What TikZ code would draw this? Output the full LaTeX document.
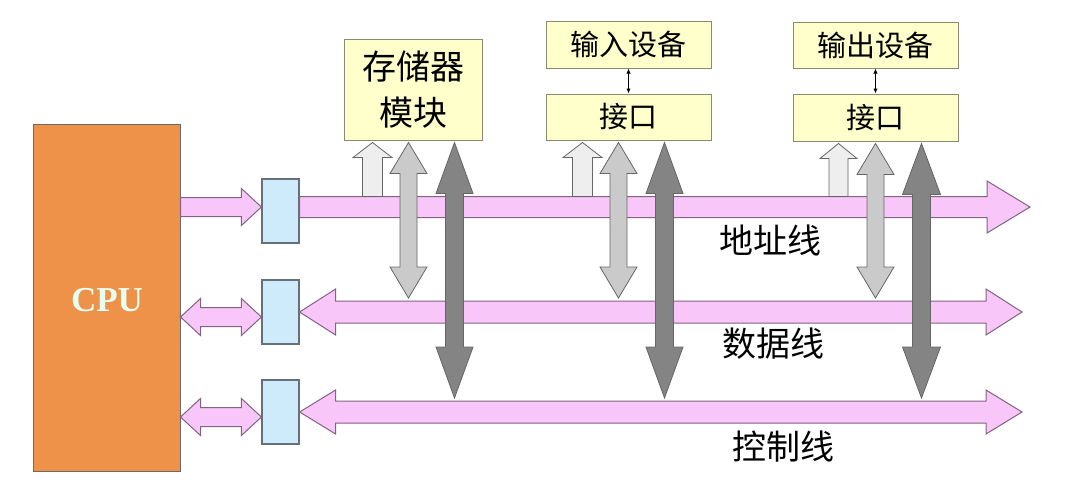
\documentclass[tikz,border=0pt]{standalone}
\usepackage{fontspec}
\setmainfont{Liberation Serif}
\newfontfamily\cjk{Noto Sans CJK SC}
\usetikzlibrary{calc,arrows.meta}
\definecolor{pinkfill}{HTML}{F9C6F9}
\definecolor{pinkline}{HTML}{806480}
\definecolor{regfill}{HTML}{CDEBFB}
\definecolor{regline}{HTML}{66707A}
\definecolor{yelfill}{HTML}{FFFFCC}
\definecolor{yelline}{HTML}{8A8A70}
\definecolor{cpufill}{HTML}{EE9149}
\definecolor{cpuline}{HTML}{6A6A6A}
\definecolor{cputext}{HTML}{E6FFF0}
\definecolor{lightarr}{HTML}{EEEEEE}
\definecolor{midarr}{HTML}{CACACA}
\definecolor{darkarr}{HTML}{848484}
\definecolor{arrline}{HTML}{666666}
% right-pointing fat arrow: #2 flat start, #3 tip, #4 shaft half, #5 head half, #6 head length
\newcommand\fatR[6]{\path[#1] ($(#2)+(0,-#4)$) -- ($(#3)+(-#6,-#4)$) -- ($(#3)+(-#6,-#5)$) -- (#3) -- ($(#3)+(-#6,#5)$) -- ($(#3)+(-#6,#4)$) -- ($(#2)+(0,#4)$) -- cycle;}
% horizontal double fat arrow: #2 left tip, #3 right tip
\newcommand\fatLR[6]{\path[#1] (#2) -- ($(#2)+(#6,-#5)$) -- ($(#2)+(#6,-#4)$) -- ($(#3)+(-#6,-#4)$) -- ($(#3)+(-#6,-#5)$) -- (#3) -- ($(#3)+(-#6,#5)$) -- ($(#3)+(-#6,#4)$) -- ($(#2)+(#6,#4)$) -- ($(#2)+(#6,#5)$) -- cycle;}
% vertical up arrow: #2 top tip, #3 flat bottom
\newcommand\fatU[6]{\path[#1] (#2) -- ($(#2)+(#5,#6)$) -- ($(#2)+(#4,#6)$) -- ($(#3)+(#4,0)$) -- ($(#3)+(-#4,0)$) -- ($(#2)+(-#4,#6)$) -- ($(#2)+(-#5,#6)$) -- cycle;}
% vertical double arrow: #2 top tip, #3 bottom tip
\newcommand\fatUD[6]{\path[#1] (#2) -- ($(#2)+(#5,#6)$) -- ($(#2)+(#4,#6)$) -- ($(#3)+(#4,-#6)$) -- ($(#3)+(#5,-#6)$) -- (#3) -- ($(#3)+(-#5,-#6)$) -- ($(#3)+(-#4,-#6)$) -- ($(#2)+(-#4,#6)$) -- ($(#2)+(-#5,#6)$) -- cycle;}
\tikzset{
  cpubox/.style={draw=cpuline, fill=cpufill, line width=1pt, inner sep=0pt},
  regbox/.style={draw=regline, fill=regfill, line width=1.2pt, minimum width=37, minimum height=64, inner sep=0pt},
  yelbox/.style={draw=yelline, fill=yelfill, line width=1pt, inner sep=0pt, font=\cjk\fontsize{29}{34}\selectfont},
  bus/.style={draw=pinkline, fill=pinkfill, line width=1pt, line join=miter},
  lightv/.style={draw=arrline, fill=lightarr, line width=0.8pt},
  midv/.style={draw=arrline, fill=midarr, line width=0.8pt},
  darkv/.style={draw=arrline, fill=darkarr, line width=0.8pt},
  buslabel/.style={font=\cjk\fontsize{34}{40}\selectfont, inner sep=0pt},
  thinlink/.style={{Latex[length=5pt,width=4.5pt]}-{Latex[length=5pt,width=4.5pt]}, line width=1pt, black}
}
\begin{document}
\begin{tikzpicture}[x=1pt,y=-1pt]
\useasboundingbox[fill=white] (0,0) rectangle (1068,491);
% CPU and registers
\node[cpubox, minimum width=147, minimum height=347] (cpu) at (106.5,297.5) {};
\node[text=cputext, font=\bfseries\fontsize{35}{40}\selectfont] (cputxt) at (107,300) {CPU};
\node[regbox] (r1) at (280.5,211) {};
\node[regbox] (r2) at (280.5,312) {};
\node[regbox] (r3) at (280.5,412) {};
% upper boxes
\node[yelbox, minimum width=138, minimum height=101, align=center, font=\cjk\fontsize{34}{46}\selectfont] (mem) at (413,89.5) {存储器\\模块};
\node[yelbox, minimum width=165, minimum height=47] (indev) at (628.5,44.5) {输入设备};
\node[yelbox, minimum width=165, minimum height=46] (inif) at (628.5,117) {接口};
\node[yelbox, minimum width=165, minimum height=46] (outdev) at (875.5,45) {输出设备};
\node[yelbox, minimum width=165, minimum height=47] (outif) at (875.5,117.5) {接口};
\draw[thinlink] (indev.south) -- (inif.north);
\draw[thinlink] (outdev.south) -- (outif.north);
% bus anchor coordinates
\coordinate (ca0) at (cpu.east |- 0,207);
\coordinate (ca1) at (r1.west |- 0,207);
\coordinate (cd0) at (cpu.east |- 0,317);
\coordinate (cd1) at (r2.west |- 0,317);
\coordinate (cc0) at (cpu.east |- 0,417);
\coordinate (cc1) at (r3.west |- 0,417);
\coordinate (ab0) at (r1.east |- 0,207);
\coordinate (ab1) at (1030,207);
\coordinate (db0) at (r2.east |- 0,312);
\coordinate (db1) at (1022,312);
\coordinate (kb0) at (r3.east |- 0,412);
\coordinate (kb1) at (1022,412);
% CPU side arrows
\fatR{bus}{ca0}{ca1}{9.5}{18.5}{20}
\fatLR{bus}{cd0}{cd1}{9.5}{18.5}{20}
\fatLR{bus}{cc0}{cc1}{9.5}{18.5}{20}
% main buses
\fatR{bus}{ab0}{ab1}{10.5}{26}{43}
\fatLR{bus}{db0}{db1}{11}{23}{36}
\fatLR{bus}{kb0}{kb1}{11}{22}{36}
% bus labels
\node[buslabel] (lab1) at (770,240) {地址线};
\node[buslabel] (lab2) at (773,344) {数据线};
\node[buslabel] (lab3) at (783,447) {控制线};
% vertical arrows: memory
\coordinate (m1t) at ($(mem.south west)+(29,2)$);
\coordinate (m1b) at (m1t |- 0,196.5);
\coordinate (m2t) at ($(mem.south west)+(65,2)$);
\coordinate (m2b) at (m2t |- 0,298);
\coordinate (m3t) at ($(mem.south west)+(111,2)$);
\coordinate (m3b) at (m3t |- 0,398);
\fatU{lightv}{m1t}{m1b}{10}{19.5}{15}
\fatUD{midv}{m2t}{m2b}{8.5}{18.5}{31}
\fatUD{darkv}{m3t}{m3b}{9}{18.5}{51}
% vertical arrows: input interface
\coordinate (i1t) at ($(inif.south west)+(37,2)$);
\coordinate (i1b) at (i1t |- 0,196.5);
\coordinate (i2t) at ($(inif.south west)+(73,2)$);
\coordinate (i2b) at (i2t |- 0,298);
\coordinate (i3t) at ($(inif.south west)+(119,2)$);
\coordinate (i3b) at (i3t |- 0,398);
\fatU{lightv}{i1t}{i1b}{10}{19.5}{15}
\fatUD{midv}{i2t}{i2b}{8.5}{18.5}{31}
\fatUD{darkv}{i3t}{i3b}{9}{18.5}{51}
% vertical arrows: output interface
\coordinate (o1t) at ($(outif.south west)+(46,2)$);
\coordinate (o1b) at (o1t |- 0,196.5);
\coordinate (o2t) at ($(outif.south west)+(83,2)$);
\coordinate (o2b) at (o2t |- 0,298);
\coordinate (o3t) at ($(outif.south west)+(129,2)$);
\coordinate (o3b) at (o3t |- 0,398);
\fatU{lightv}{o1t}{o1b}{9.5}{18.5}{15}
\fatUD{midv}{o2t}{o2b}{8.5}{18.5}{31}
\fatUD{darkv}{o3t}{o3b}{9}{19}{51}
\end{tikzpicture}
\end{document}
